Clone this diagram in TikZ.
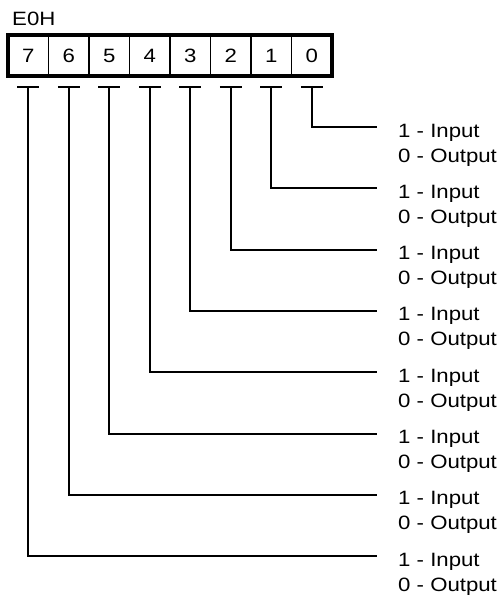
\documentclass[tikz,border=0pt]{standalone}
\usepackage{fontspec}
\setmainfont{Liberation Sans}
\usetikzlibrary{calc}
\begin{document}
\begin{tikzpicture}[x=1pt,y=-1pt,
  txt/.style={font=\fontsize{19.3}{22}\selectfont, xscale=1.15, inner sep=0pt},
  cell/.style={txt, anchor=center},
  wire/.style={line width=2pt},
  tbar/.style={line width=2pt}]
\useasboundingbox (0,0) rectangle (502,597);
\node[txt, anchor=base west] (title) at (12,25) {E0H};
% cells: bit 7 at left
\foreach \b [evaluate=\b as \k using 7-\b] in {0,...,7} {
  \node[cell] (c\b) at ({8+40.5*(\k+0.5)},55.5) {\b};
}
\foreach \k in {1,...,7}
  \draw[line width=1.5pt] ({8+40.5*\k},35) -- ({8+40.5*\k},76);
\draw[line width=3.5pt] (8,35) rectangle (332,76);
% connectors
\foreach \b in {0,...,7} {
  \coordinate (t\b) at ($(c\b.center)+(0,31.5)$);
  \coordinate (e\b) at (377,{127+61.3*\b});
  \draw[tbar] ($(t\b)+(-11,0)$) -- ($(t\b)+(11,0)$);
  \draw[wire] (t\b) |- (e\b);
  \node[txt, anchor=base west] (i\b) at (398,{127+61.3*\b+10}) {1 - Input};
  \node[txt, anchor=base west] (o\b) at (398,{127+61.3*\b+35}) {0 - Output};
}
\end{tikzpicture}
\end{document}
